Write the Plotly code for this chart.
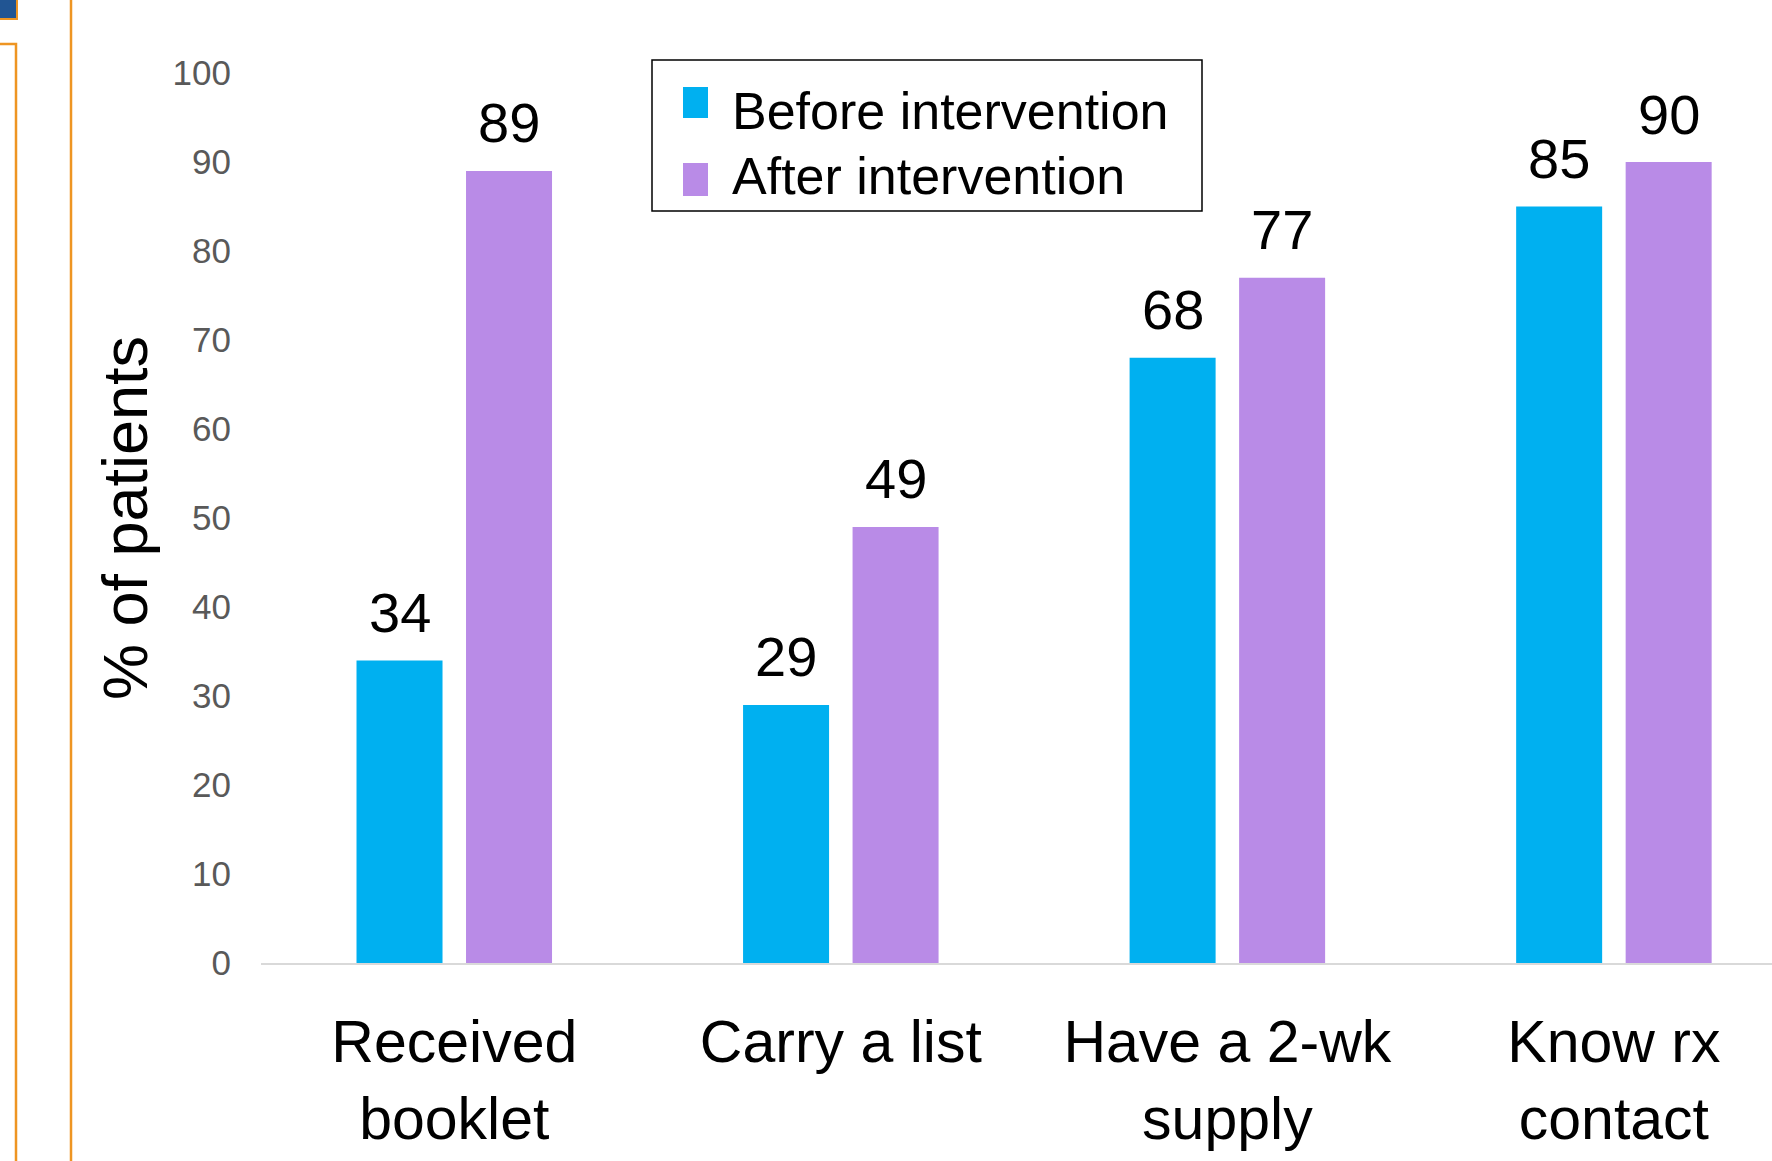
import plotly.graph_objects as go

# ---- data ----
categories = ["Received<br>booklet", "Carry a list", "Have a 2-wk<br>supply", "Know rx<br>contact"]
before_vals = [34, 29, 68, 85]
after_vals = [89, 49, 77, 90]
series_names = ["Before intervention", "After intervention"]
y_ticks = [0, 10, 20, 30, 40, 50, 60, 70, 80, 90, 100]

# ---- styling / geometry ----
W, H = 1772, 1161
M_L, M_R, M_T, M_B = 261, 0, 73, 198
PLOT_W = W - M_L - M_R
PLOT_H = H - M_T - M_B
BLUE = "#00B0F0"
PURPLE = "#B98BE7"
ORANGE = "#EE9522"
FONT = "Liberation Sans, Arial, sans-serif"
X_RANGE = [-0.5, 3.409]
BARGAP = 0.4334
BARGROUPGAP = 0.2146


def px_x(px):
    return (px - M_L) / PLOT_W


def px_y(py):
    return (H - M_B - py) / PLOT_H


fig = go.Figure()
fig.add_trace(go.Bar(name=series_names[0], x=categories, y=before_vals,
                     marker=dict(color=BLUE, line=dict(width=0))))
fig.add_trace(go.Bar(name=series_names[1], x=categories, y=after_vals,
                     marker=dict(color=PURPLE, line=dict(width=0))))

# value labels above each bar, shifted to the grouped bar centres
px_per_cat = PLOT_W / (X_RANGE[1] - X_RANGE[0])
half_slot = (1 - BARGAP) / 2 * px_per_cat / 2
annotations = []
for vals, sign in ((before_vals, -1), (after_vals, 1)):
    for cat, v in zip(categories, vals):
        annotations.append(dict(
            x=cat, y=v, xref="x", yref="y", text=str(v), showarrow=False,
            xanchor="center", yanchor="middle", xshift=sign * half_slot, yshift=48,
            font=dict(family=FONT, size=56, color="#000000")))

# legend box
shapes = [
    dict(type="rect", xref="paper", yref="paper",
         x0=px_x(652), x1=px_x(1202), y0=px_y(211), y1=px_y(60),
         line=dict(color="#000000", width=1.5), fillcolor="rgba(0,0,0,0)"),
    dict(type="rect", xref="paper", yref="paper",
         x0=px_x(683), x1=px_x(708), y0=px_y(118), y1=px_y(87),
         line=dict(width=0), fillcolor=BLUE),
    dict(type="rect", xref="paper", yref="paper",
         x0=px_x(683), x1=px_x(708), y0=px_y(196), y1=px_y(163),
         line=dict(width=0), fillcolor=PURPLE),
]
for name, cy in zip(series_names, (111, 176)):
    annotations.append(dict(
        x=px_x(730), y=px_y(cy), xref="paper", yref="paper", text=name,
        showarrow=False, xanchor="left", yanchor="middle",
        font=dict(family=FONT, size=52, color="#000000")))

# slide frame decorations on the left edge
shapes += [
    dict(type="rect", xref="paper", yref="paper",
         x0=px_x(-5), x1=px_x(17), y0=px_y(19), y1=px_y(-5),
         line=dict(color=ORANGE, width=2), fillcolor="#215593"),
    dict(type="rect", xref="paper", yref="paper",
         x0=px_x(-5), x1=px_x(16), y0=px_y(H + 5), y1=px_y(44),
         line=dict(color=ORANGE, width=2.5), fillcolor="rgba(0,0,0,0)"),
    dict(type="line", xref="paper", yref="paper",
         x0=px_x(71), x1=px_x(71), y0=px_y(H + 5), y1=px_y(-5),
         line=dict(color=ORANGE, width=2.5)),
]

fig.update_layout(
    width=W, height=H,
    margin=dict(l=M_L, r=M_R, t=M_T, b=M_B, autoexpand=False),
    paper_bgcolor="#FFFFFF", plot_bgcolor="#FFFFFF",
    barmode="group", bargap=BARGAP, bargroupgap=BARGROUPGAP,
    showlegend=False,
    font=dict(family=FONT, color="#000000"),
    annotations=annotations, shapes=shapes,
    xaxis=dict(
        type="category", range=X_RANGE, automargin=False,
        showgrid=False, zeroline=False,
        showline=True, linecolor="#D9D9D9", linewidth=2,
        ticks="outside", ticklen=0, tickcolor="#FFFFFF", ticklabelstandoff=26,
        tickfont=dict(family=FONT, size=59, color="#000000"),
    ),
    yaxis=dict(
        range=[0, 100], automargin=False,
        tickvals=y_ticks, showgrid=False, zeroline=False, showline=False,
        ticks="outside", ticklen=0, tickcolor="#FFFFFF", ticklabelstandoff=22,
        tickfont=dict(family=FONT, size=35, color="#595959"),
        title=dict(text="% of patients", standoff=4,
                   font=dict(family=FONT, size=63, color="#000000")),
    ),
)

fig.write_html("out.html")
